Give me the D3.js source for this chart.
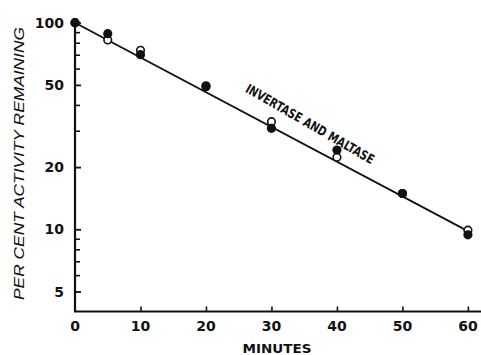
<!DOCTYPE html>
<html>
<head>
<meta charset="utf-8">
<script src="https://cdn.jsdelivr.net/npm/d3@7"></script>
<style>
  body { margin: 0; background: #fff; }
  svg { display: block; }
</style>
</head>
<body>
<svg id="chart" width="481" height="355"></svg>
<script>
// readings (per cent activity remaining vs minutes)
const minutes = [0, 5, 10, 20, 30, 40, 50, 60];
const filledVals = [100, 88.5, 70, 49.5, 30.8, 24.2, 14.9, 9.4];
const openVals = [100, 82.5, 73.5, 49, 33.2, 22.3, 14.9, 9.9];
const fitMinutes = [0, 60];
const fitVals = [100, 9.8];
const yMajor = [100, 50, 20, 10, 5];
const yMinor = [90, 80, 70, 60, 40, 30, 9, 8, 7, 6];
const xTicks = [0, 10, 20, 30, 40, 50, 60];

const svg = d3.select("#chart");

const x = d3.scaleLinear().domain([0, 62]).range([75, 481]);
const y = d3.scaleLog().domain([4, 100]).range([311.5, 22.7]);

const ink = "#111";

// axis lines
svg.append("line")
  .attr("x1", x(0)).attr("x2", x(0))
  .attr("y1", y(4)).attr("y2", 18)
  .attr("stroke", ink).attr("stroke-width", 2.2);

svg.append("line")
  .attr("x1", x(0) - 1).attr("x2", x(62))
  .attr("y1", y(4)).attr("y2", y(4))
  .attr("stroke", ink).attr("stroke-width", 2.2);

// y ticks (inside, to the right)
const yAxis = svg.append("g")
  .attr("transform", `translate(${x(0)},0)`)
  .call(d3.axisRight(y).tickValues(yMajor).tickSize(6).tickFormat(""));
yAxis.select(".domain").remove();
yAxis.selectAll("line").attr("stroke", ink).attr("stroke-width", 1.8);

const yAxisMinor = svg.append("g")
  .attr("transform", `translate(${x(0)},0)`)
  .call(d3.axisRight(y).tickValues(yMinor).tickSize(5).tickFormat(""));
yAxisMinor.select(".domain").remove();
yAxisMinor.selectAll("line").attr("stroke", ink).attr("stroke-width", 1.6);

svg.selectAll("text.ylab")
  .data(yMajor)
  .enter()
  .append("text")
  .attr("class", "ylab")
  .attr("x", 64)
  .attr("y", d => y(d))
  .attr("dy", "0.36em")
  .attr("text-anchor", "end")
  .style("font-family", "'DejaVu Sans', sans-serif")
  .style("font-weight", "bold")
  .style("font-size", "14px")
  .attr("fill", ink)
  .text(d => d);

// x ticks (inside, upward)
const xAxis = svg.append("g")
  .attr("transform", `translate(0,${y(4)})`)
  .call(d3.axisTop(x).tickValues(xTicks.slice(1)).tickSize(5).tickFormat(""));
xAxis.select(".domain").remove();
xAxis.selectAll("line").attr("stroke", ink).attr("stroke-width", 1.6);

svg.selectAll("text.xlab")
  .data(xTicks)
  .enter()
  .append("text")
  .attr("class", "xlab")
  .attr("x", d => x(d))
  .attr("y", 331)
  .attr("text-anchor", "middle")
  .style("font-family", "'DejaVu Sans', sans-serif")
  .style("font-weight", "bold")
  .style("font-size", "14px")
  .attr("fill", ink)
  .text(d => d);

svg.append("text")
  .attr("x", 277)
  .attr("y", 353)
  .attr("text-anchor", "middle")
  .attr("textLength", 69)
  .attr("lengthAdjust", "spacingAndGlyphs")
  .style("font-family", "'DejaVu Sans', sans-serif")
  .style("font-weight", "bold")
  .style("font-size", "12.5px")
  .attr("fill", ink)
  .text("MINUTES");

svg.append("text")
  .attr("transform", "translate(24,163.5) rotate(-90)")
  .attr("text-anchor", "middle")
  .attr("textLength", 273)
  .attr("lengthAdjust", "spacingAndGlyphs")
  .style("font-family", "'Liberation Sans', sans-serif")
  .style("font-style", "italic")
  .style("font-size", "15px")
  .attr("fill", ink)
  .text("PER CENT ACTIVITY REMAINING");

// fitted line
const line = d3.line().x(d => x(d[0])).y(d => y(d[1]));
svg.append("path")
  .datum(fitMinutes.map((m, i) => [m, fitVals[i]]))
  .attr("d", line)
  .attr("fill", "none")
  .attr("stroke", ink)
  .attr("stroke-width", 1.8);

// open circles
svg.selectAll("circle.open")
  .data(minutes.map((m, i) => [m, openVals[i]]))
  .enter()
  .append("circle")
  .attr("class", "open")
  .attr("cx", d => x(d[0]))
  .attr("cy", d => y(d[1]))
  .attr("r", 3.8)
  .attr("fill", "#fff")
  .attr("stroke", ink)
  .attr("stroke-width", 1.6);

// filled circles
svg.selectAll("circle.filled")
  .data(minutes.map((m, i) => [m, filledVals[i]]))
  .enter()
  .append("circle")
  .attr("class", "filled")
  .attr("cx", d => x(d[0]))
  .attr("cy", d => y(d[1]))
  .attr("r", 4.6)
  .attr("fill", ink);

// curve label along the line
svg.append("text")
  .attr("transform", "translate(310,124) rotate(30)")
  .attr("text-anchor", "middle")
  .attr("dominant-baseline", "central")
  .attr("textLength", 146)
  .attr("lengthAdjust", "spacingAndGlyphs")
  .style("font-family", "'DejaVu Sans Condensed', 'DejaVu Sans', sans-serif")
  .style("font-weight", "bold")
  .style("font-size", "13px")
  .attr("fill", ink)
  .text("INVERTASE AND MALTASE");
</script>
</body>
</html>
